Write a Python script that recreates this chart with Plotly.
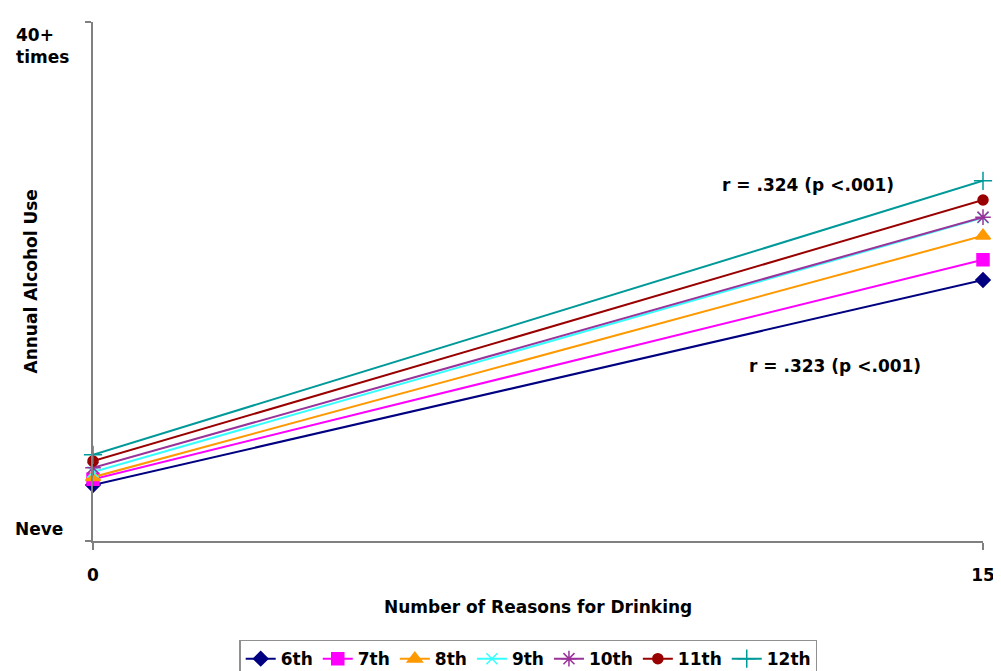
import plotly.graph_objects as go

# Data
grades = ["6th", "7th", "8th", "9th", "10th", "11th", "12th"]
reasons = [0, 15]
use_at_0 = [10.8, 11.9, 12.3, 13.3, 14.1, 15.4, 16.6]
use_at_15 = [50.3, 54.2, 58.8, 62.3, 62.4, 65.7, 69.4]
x_tick_vals = [0, 15]
x_tick_text = ["0", "15"]
y_tick_vals = [0, 100]
y_tick_text = ["Neve", "40+<br>times"]
r_labels = ["r = .324 (p <.001)", "r = .323 (p <.001)"]

colors = ["#000080", "#FF00FF", "#FF9900", "#33FFFF", "#993399", "#990000", "#009999"]
symbols = ["diamond", "square", "triangle-up", "x-thin-open", "asterisk-open", "circle", "cross-thin-open"]
sizes = [11, 12, 13, 11, 13, 10, 13]

FONT = "DejaVu Sans, Liberation Sans, Arial, sans-serif"
FS = 17

fig = go.Figure()
for i, g in enumerate(grades):
    fig.add_trace(go.Scatter(
        x=reasons, y=[use_at_0[i], use_at_15[i]], name=g,
        mode="lines+markers",
        line=dict(color=colors[i], width=2),
        marker=dict(symbol=symbols[i], size=sizes[i], color=colors[i],
                    line=dict(color=colors[i], width=1.5)),
        cliponaxis=False,
    ))

fig.update_layout(
    width=1001, height=671,
    margin=dict(l=85, r=26, t=14, b=138, autoexpand=False),
    plot_bgcolor="white", paper_bgcolor="white",
    font=dict(family=FONT, size=FS, color="black"),
    showlegend=True,
    legend=dict(orientation="h", x=0.489, xanchor="center", y=-0.19, yanchor="top",
                bordercolor="#909090", borderwidth=1.5,
                font=dict(family=FONT, size=FS, weight="bold"),
                itemwidth=30, tracegroupgap=0),
    xaxis=dict(range=[0, 15], tickvals=x_tick_vals, ticktext=x_tick_text,
               showline=True, linecolor="#808080", linewidth=2,
               ticks="outside", ticklen=7, tickcolor="#808080", tickwidth=2,
               showgrid=True, gridcolor="#c8c8c8", gridwidth=2,
               zeroline=False, ticklabelstandoff=11,
               tickfont=dict(family=FONT, size=FS, weight="bold")),
    yaxis=dict(range=[0, 100], tickvals=y_tick_vals, ticktext=["", ""],
               showline=True, linecolor="#808080", linewidth=2,
               ticks="outside", ticklen=6, tickcolor="#808080", tickwidth=2,
               showgrid=True, gridcolor="#d0d0d0", gridwidth=2,
               zeroline=False),
)

# y tick labels as annotations (offset like in the original)
fig.add_annotation(xref="paper", yref="y", x=0, y=y_tick_vals[1], xanchor="right",
                   yanchor="top", xshift=-22, yshift=-1, align="left", showarrow=False,
                   text="<b>" + y_tick_text[1] + "</b>", font=dict(size=FS))
fig.add_annotation(xref="paper", yref="y", x=0, y=y_tick_vals[0], xanchor="right",
                   yanchor="bottom", xshift=-28, yshift=0, align="left", showarrow=False,
                   text="<b>" + y_tick_text[0] + "</b>", font=dict(size=FS))

# axis titles
fig.add_annotation(xref="paper", yref="paper", x=0.5, y=0, xanchor="center", yanchor="middle",
                   yshift=-66, showarrow=False, text="<b>Number of Reasons for Drinking</b>",
                   font=dict(size=FS))
fig.add_annotation(xref="paper", yref="paper", x=0, y=0.5, xanchor="center", yanchor="middle",
                   xshift=-63, textangle=-90, showarrow=False, text="<b>Annual Alcohol Use</b>",
                   font=dict(size=FS))

# r labels
fig.add_annotation(xref="x", yref="y", x=12.05, y=68.6, showarrow=False,
                   text="<b>" + r_labels[0] + "</b>", font=dict(size=FS))
fig.add_annotation(xref="x", yref="y", x=12.5, y=33.8, showarrow=False,
                   text="<b>" + r_labels[1] + "</b>", font=dict(size=FS))

fig.write_html("out.html")
